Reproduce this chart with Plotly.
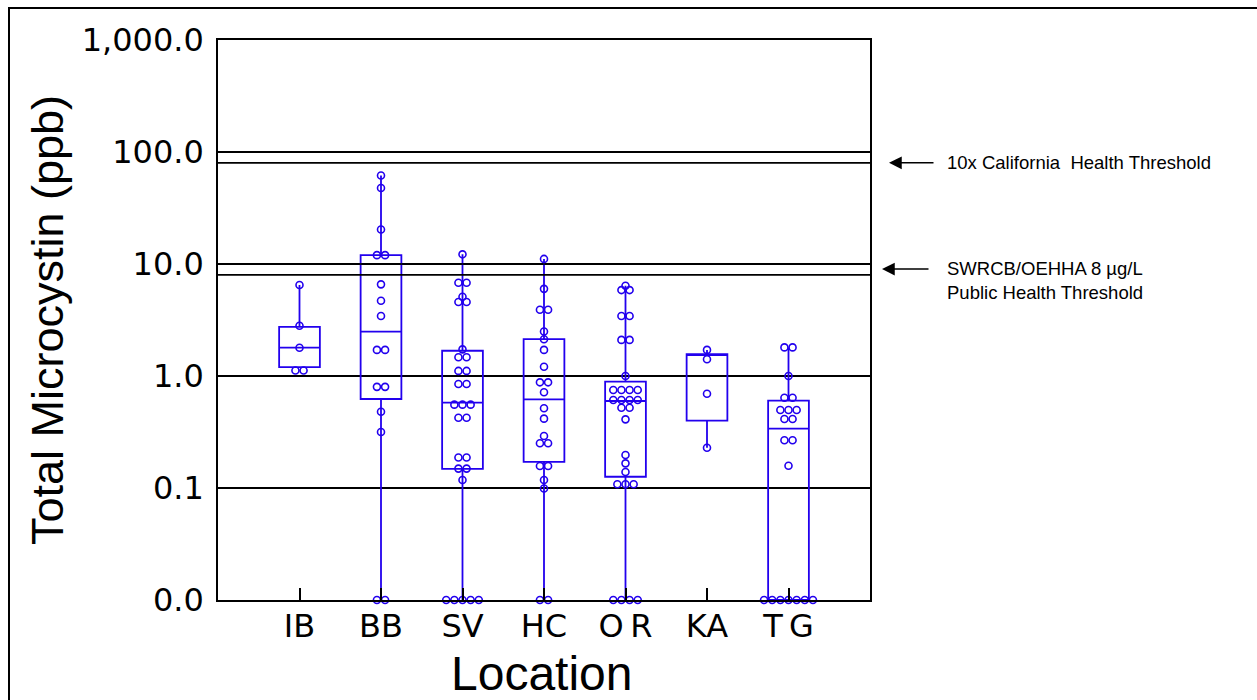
import math
import plotly.graph_objects as go

# ---------------- data ----------------
locations = ["IB", "BB", "SV", "HC", "OR", "KA", "TG"]
tick_labels_x = ["IB", "BB", "SV", "HC", "O\u2009R", "KA", "T\u2009G"]

q1 = [1.20, 0.623, 0.148, 0.171, 0.126, 0.399, 0.01]
median = [1.79, 2.49, 0.578, 0.619, 0.598, 1.57, 0.339]
q3 = [2.75, 12.0, 1.68, 2.13, 0.89, 1.57, 0.602]
lower_fence = [1.20, 0.01, 0.01, 0.01, 0.01, 0.229, 0.01]
upper_fence = [6.49, 61.6, 12.2, 11.1, 6.40, 1.71, 1.80]

pts_IB = [6.49, 2.81, 1.79, 1.12, 1.12]
pts_BB = [61.6, 47.7, 20.3, 12.0, 12.0, 6.58, 4.70, 3.43, 1.71, 1.71, 0.80, 0.80,
          0.48, 0.316, 0.01, 0.01]
pts_SV = [12.2, 6.81, 6.81, 5.10, 4.58, 4.58, 1.73, 1.47, 1.47, 1.11, 1.11, 0.848, 0.848,
          0.555, 0.555, 0.555, 0.424, 0.424, 0.187, 0.187, 0.149, 0.149, 0.118,
          0.01, 0.01, 0.01, 0.01, 0.01]
pts_HC = [11.1, 6.0, 3.90, 3.90, 2.50, 2.13, 1.71, 1.21, 0.878, 0.878, 0.715, 0.515,
          0.416, 0.291, 0.251, 0.251, 0.157, 0.157, 0.118, 0.099, 0.01, 0.01]
pts_OR = [6.40, 5.85, 5.85, 3.43, 3.43, 2.10, 2.10, 1.0, 0.75, 0.75, 0.75, 0.75,
          0.61, 0.61, 0.61, 0.61, 0.52, 0.52, 0.41, 0.197, 0.166, 0.139,
          0.108, 0.108, 0.108, 0.01, 0.01, 0.01, 0.01]
pts_KA = [1.71, 1.41, 0.695, 0.229]
pts_TG = [1.80, 1.80, 1.0, 0.64, 0.64, 0.497, 0.497, 0.497, 0.413, 0.413, 0.267, 0.267,
          0.158, 0.01, 0.01, 0.01, 0.01, 0.01, 0.01, 0.01]
points = [pts_IB, pts_BB, pts_SV, pts_HC, pts_OR, pts_KA, pts_TG]

thresholds = [8, 80, 10, 100]
y_tickvals = [0.01, 0.1, 1, 10, 100, 1000]
y_ticktext = ["0.0", "0.1", "1.0", "10.0", "100.0", "1,000.0"]

# ---------------- layout geometry ----------------
W, H = 1257, 700
L, R, T, B = 218, 870, 40, 600
BLUE = "#2200EE"


def px_x(p):
    return (p - L) / (R - L)


def px_y(p):
    return (B - p) / (B - T)


def swarm(values, step=0.1, tol=0.035):
    order = sorted(range(len(values)), key=lambda i: values[i])
    groups, cur = [], []
    for i in order:
        if cur and math.log10(values[i]) - math.log10(values[cur[0]]) > tol:
            groups.append(cur)
            cur = []
        cur.append(i)
    if cur:
        groups.append(cur)
    offs = [0.0] * len(values)
    for g in groups:
        n = len(g)
        for k, i in enumerate(g):
            offs[i] = (k - (n - 1) / 2) * step
    return offs


fig = go.Figure()

# threshold lines
for t in thresholds:
    fig.add_trace(go.Scatter(x=[-1, 7], y=[t, t], mode="lines",
                             line=dict(color="black", width=1.6),
                             hoverinfo="skip", showlegend=False))

fig.add_trace(go.Box(
    x=list(range(len(locations))), q1=q1, median=median, q3=q3,
    lowerfence=lower_fence, upperfence=upper_fence,
    width=0.5, boxpoints=False, whiskerwidth=0,
    line=dict(color=BLUE, width=1.8), fillcolor="rgba(0,0,0,0)",
    showlegend=False))

for i, vals in enumerate(points):
    offs = swarm(vals)
    fig.add_trace(go.Scatter(
        x=[i + o for o in offs], y=vals, mode="markers", cliponaxis=False,
        marker=dict(symbol="circle-open", size=7, color=BLUE,
                    line=dict(color=BLUE, width=1.6)),
        showlegend=False))

fig.update_layout(
    width=W, height=H,
    margin=dict(l=L, r=W - R, t=T, b=H - B),
    paper_bgcolor="white", plot_bgcolor="white",
    font=dict(family="Liberation Sans, Arial", color="black"),
    xaxis=dict(range=[-1, 7], tickvals=list(range(len(locations))),
               ticktext=tick_labels_x, ticks="inside", ticklen=12, tickwidth=2,
               tickcolor="black", showgrid=False, zeroline=False, automargin=False,
               showline=True, mirror=True, linecolor="black", linewidth=1.6,
               ticklabelstandoff=-3,
               tickfont=dict(family="DejaVu Sans", size=32)),
    yaxis=dict(type="log", range=[-2, 3], tickvals=y_tickvals, ticktext=y_ticktext,
               ticks="", showgrid=True, gridcolor="black", gridwidth=1.6,
               zeroline=False, showline=True, mirror=True, linecolor="black",
               linewidth=1.6, ticklabelstandoff=6, automargin=False,
               tickfont=dict(family="DejaVu Sans", size=32),
               title=dict(text="Total Microcystin (ppb)", font=dict(size=45),
                          standoff=4)),
    shapes=[dict(type="rect", xref="paper", yref="paper",
                 x0=px_x(9), x1=px_x(1265), y0=px_y(710), y1=px_y(8),
                 line=dict(color="black", width=2))],
    annotations=[
        dict(xref="paper", yref="paper", x=px_x(541), y=px_y(646),
             text="Location", showarrow=False, xanchor="center", yanchor="top",
             font=dict(size=48), borderpad=0),
        dict(xref="paper", yref="y", x=px_x(889), y=math.log10(80), text="",
             showarrow=True, ax=46, ay=0, arrowhead=2, arrowsize=1.7,
             arrowwidth=1.5, arrowcolor="black"),
        dict(xref="paper", yref="y", x=px_x(945), y=math.log10(80),
             text="10x California\u00a0\u00a0Health Threshold", showarrow=False,
             xanchor="left", yanchor="middle", font=dict(size=18.5)),
        dict(xref="paper", yref="y", x=px_x(882), y=math.log10(9), text="",
             showarrow=True, ax=48, ay=0, arrowhead=2, arrowsize=1.7,
             arrowwidth=1.5, arrowcolor="black"),
        dict(xref="paper", yref="paper", x=px_x(945), y=px_y(256),
             text="SWRCB/OEHHA 8 µg/L<br>Public Health Threshold", showarrow=False,
             xanchor="left", yanchor="top", align="left", font=dict(size=18.5)),
    ],
)

fig.write_html("out.html")
